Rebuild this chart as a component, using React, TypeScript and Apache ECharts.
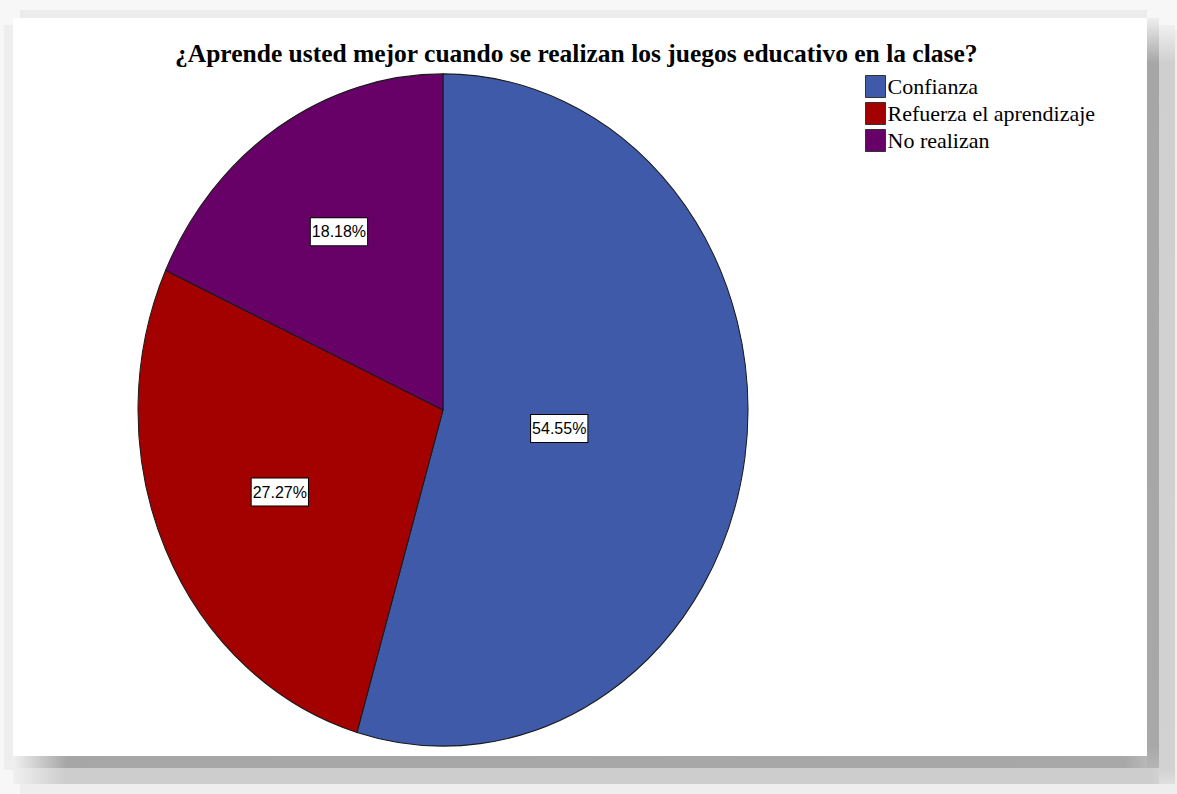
import React, { useEffect, useRef } from "react";
import * as echarts from "echarts";

const titleText =
  "¿Aprende usted mejor cuando se realizan los juegos educativo en la clase?";
const categories = ["Confianza", "Refuerza el aprendizaje", "No realizan"];
const percentages = [54.55, 27.27, 18.18];
const sliceColors = ["#3f5aa9", "#a30000", "#670067"];

export default function App() {
  const ref = useRef<HTMLDivElement>(null);

  useEffect(() => {
    const chart = echarts.init(ref.current!, null, { renderer: "svg" });
    const total = percentages.reduce((a, b) => a + b, 0);
    const CX = 443;
    const CY = 410;
    const RX = 305;
    const RY = 336;

    const series = categories.map((name, i) => ({
      type: "custom",
      name,
      coordinateSystem: "none",
      itemStyle: { color: sliceColors[i] },
      data: [[percentages[i]]],
      renderItem: (params: any, api: any) => {
        const before = percentages.slice(0, i).reduce((a, b) => a + b, 0);
        const v = api.value(0) as number;
        const start = -Math.PI / 2 + (before / total) * 2 * Math.PI;
        const end = start + (v / total) * 2 * Math.PI;
        const half = (end - start) / 2;
        const mid = start + half;
        const d = (2 * RX * Math.sin(half)) / (3 * half);
        const lx = CX + d * Math.cos(mid);
        const ly = CY + d * Math.sin(mid) * (RY / RX);
        return {
          type: "group",
          children: [
            {
              type: "group",
              x: CX,
              y: CY,
              scaleY: RY / RX,
              children: [
                {
                  type: "sector",
                  shape: {
                    cx: 0,
                    cy: 0,
                    r: RX,
                    r0: 0,
                    startAngle: start,
                    endAngle: end,
                    clockwise: true,
                  },
                  style: { fill: sliceColors[i], stroke: "#1a1a1a", lineWidth: 1 },
                },
              ],
            },
            {
              type: "text",
              x: lx,
              y: ly,
              z2: 10,
              style: {
                text: v.toFixed(2) + "%",
                fill: "#000",
                fontFamily: "Liberation Sans",
                fontSize: 16,
                align: "center",
                verticalAlign: "middle",
                backgroundColor: "#ffffff",
                borderColor: "#000000",
                borderWidth: 1,
                padding: [6, 1, 5, 1],
              },
            },
          ],
        };
      },
    }));

    const grad = (x2: number, y2: number, stops: [number, string][]) =>
      new echarts.graphic.LinearGradient(0, 0, x2, y2, stops.map(([offset, color]) => ({ offset, color })));

    chart.setOption({
      animation: false,
      backgroundColor: "#f7f7f7",
      color: sliceColors,
      title: {
        text: titleText,
        left: 175,
        top: 40,
        padding: 0,
        textStyle: {
          fontFamily: "Liberation Serif",
          fontWeight: "bold",
          fontSize: 25.5,
          color: "#000",
        },
      },
      legend: {
        data: categories,
        orient: "vertical",
        left: 865,
        top: 75,
        padding: 0,
        itemWidth: 20,
        itemHeight: 22,
        itemGap: 4,
        icon: "rect",
        itemStyle: { borderColor: "#333", borderWidth: 1 },
        textStyle: {
          fontFamily: "Liberation Serif",
          fontSize: 22,
          color: "#000",
          padding: [0, 0, 0, -3],
        },
        selectedMode: false,
      },
      graphic: [
        { type: "rect", shape: { x: 20, y: 10, width: 1127, height: 8 }, style: { fill: "#ececec" }, silent: true },
        { type: "rect", shape: { x: 4, y: 25, width: 9, height: 745 }, style: { fill: "#eeeeee" }, silent: true },
        { type: "rect", shape: { x: 20, y: 784, width: 1157, height: 10 }, style: { fill: "#eeeeee" }, silent: true },
        { type: "rect", shape: { x: 1175, y: 30, width: 2, height: 764 }, style: { fill: "#eeeeee" }, silent: true },
        {
          type: "rect",
          shape: { x: 13, y: 768, width: 1162, height: 16 },
          style: { fill: grad(1, 0, [[0, "#f0f0f0"], [0.045, "#cdcdcd"], [0.98, "#cdcdcd"], [1, "#dedede"]]) },
          silent: true,
        },
        {
          type: "rect",
          shape: { x: 1159, y: 25, width: 16, height: 759 },
          style: { fill: grad(0, 1, [[0, "#f0f0f0"], [0.05, "#cfcfcf"], [0.98, "#d2d2d2"], [1, "#dedede"]]) },
          silent: true,
        },
        {
          type: "rect",
          shape: { x: 13, y: 756, width: 1146, height: 12 },
          style: { fill: grad(1, 0, [[0, "#f0f0f0"], [0.047, "#a6a6a6"], [0.97, "#a8a8a8"], [1, "#c0c0c0"]]) },
          silent: true,
        },
        {
          type: "rect",
          shape: { x: 1147, y: 18, width: 12, height: 750 },
          style: { fill: grad(0, 1, [[0, "#efefef"], [0.06, "#a6a6a6"], [0.97, "#a8a8a8"], [1, "#b5b5b5"]]) },
          silent: true,
        },
        { type: "rect", shape: { x: 13, y: 18, width: 1134, height: 738 }, style: { fill: "#ffffff" }, silent: true },
      ],
      series,
    });

    return () => chart.dispose();
  }, []);

  return (
    <div
      ref={ref}
      style={{ position: "fixed", left: 0, top: 0, width: 1177, height: 794 }}
    />
  );
}
